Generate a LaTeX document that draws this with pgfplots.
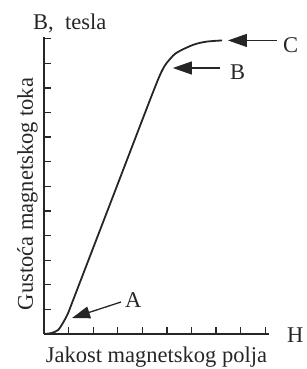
\documentclass[border=0pt]{standalone}
\usepackage{fontspec}
\setmainfont{Liberation Serif}
\usepackage{pgfplots}
\pgfplotsset{compat=1.18}
\usetikzlibrary{arrows.meta}
\begin{document}
\begin{tikzpicture}[x=1pt,y=1pt]
\begin{axis}[at={(0,0)}, anchor=south west, scale only axis,
  width=225pt, height=297pt,
  xmin=0, xmax=9.15, ymin=0, ymax=12.07,
  axis x line=bottom, axis y line=left,
  axis line style={-, line width=1.6pt, black!85},
  xtick={1,...,9}, ytick={1,...,12},
  xticklabels={}, yticklabels={},
  tick align=inside, major tick length=7pt,
  tick style={line width=1.3pt, black!85},
  clip=false]
\addplot[smooth, tension=0.5, line width=1.8pt, black!85] coordinates {
 (0,0) (0.3,0.04) (0.57,0.16) (0.77,0.45) (0.98,0.85) (1.2,1.42)
 (3.0,6.1) (4.45,9.87) (4.84,10.78) (5.12,11.17) (5.41,11.44) (6.06,11.75) (6.6,11.88) (7.24,11.93)
};
\draw[line width=1.3pt, black!85, -{Triangle[length=18pt,width=12pt]}] (axis cs:3.13,1.30) -- (axis cs:1.14,0.65);
\draw[line width=1.3pt, black!85, -{Triangle[length=19pt,width=13pt]}] (axis cs:7.15,10.81) -- (axis cs:5.24,10.81);
\draw[line width=1.3pt, black!85, -{Triangle[length=19pt,width=13pt]}] (axis cs:9.47,11.93) -- (axis cs:7.48,11.93);
\end{axis}
\path (-44,-35) rectangle (262,334);
\begin{scope}[every node/.style={inner sep=0pt, text=black!85, font=\fontsize{22.5}{24}\selectfont}]
\node[anchor=base west] at (-11,304) {B,\ \ tesla};
\node[anchor=base west] at (243,-8) {H};
\node[anchor=base] at (112.5,-28) {Jakost magnetskog polja};
\node[anchor=base, rotate=90] at (-11,140) {Gustoća magnetskog toka};
\node[anchor=base west] at (81,27) {A};
\node[anchor=base west] at (186,254) {B};
\node[anchor=base west] at (239,281) {C};
\end{scope}
\end{tikzpicture}
\end{document}
